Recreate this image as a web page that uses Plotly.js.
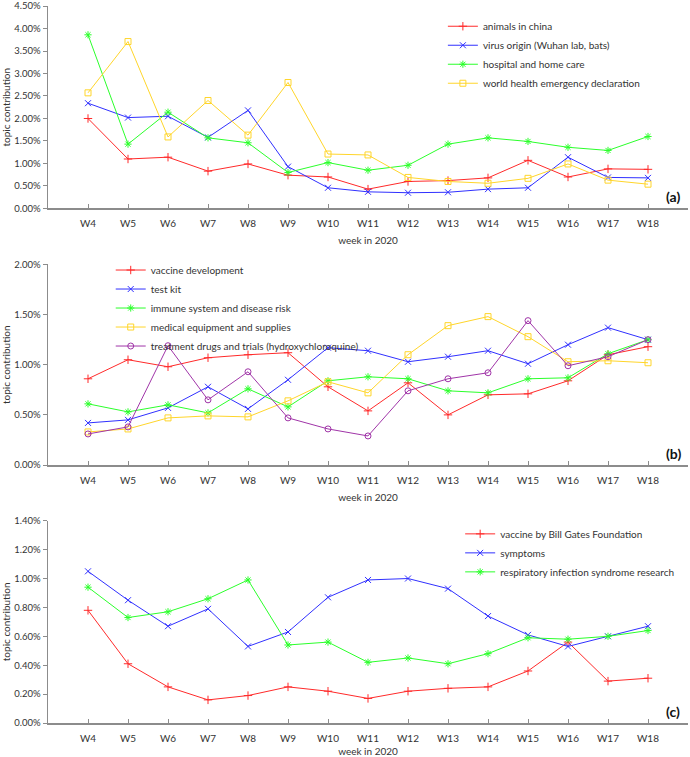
<!DOCTYPE html>
<html>
<head>
<meta charset="utf-8">
<script src="https://cdn.plot.ly/plotly-3.0.1.min.js"></script>
<style>html,body{margin:0;padding:0;background:#fff;}#chart{width:690px;height:757px;}</style>
</head>
<body>
<div id="chart"></div>
<script>
// ---- data ----
const weeks = ['W4','W5','W6','W7','W8','W9','W10','W11','W12','W13','W14','W15','W16','W17','W18'];

// panel (a)
const animalsInChina   = [2.00,1.10,1.14,0.83,0.99,0.74,0.70,0.43,0.60,0.62,0.68,1.07,0.70,0.88,0.87];
const virusOrigin      = [2.34,2.02,2.05,1.58,2.18,0.93,0.46,0.37,0.35,0.36,0.43,0.46,1.14,0.69,0.68];
const hospitalHomeCare = [3.86,1.43,2.14,1.57,1.46,0.80,1.02,0.85,0.96,1.43,1.57,1.49,1.36,1.29,1.60];
const worldHealthEmerg = [2.57,3.71,1.59,2.40,1.63,2.80,1.21,1.19,0.69,0.60,0.56,0.67,0.99,0.63,0.54];

// panel (b)
const vaccineDev       = [0.86,1.05,0.98,1.07,1.10,1.12,0.78,0.54,0.82,0.50,0.70,0.71,0.84,1.10,1.18];
const testKit          = [0.42,0.45,0.57,0.78,0.56,0.85,1.17,1.14,1.03,1.08,1.14,1.01,1.20,1.37,1.25];
const immuneSystem     = [0.61,0.53,0.60,0.52,0.76,0.58,0.84,0.88,0.86,0.74,0.72,0.86,0.87,1.11,1.25];
const medicalEquip     = [0.33,0.36,0.47,0.49,0.48,0.64,0.83,0.72,1.10,1.39,1.48,1.28,1.03,1.04,1.02];
const treatmentDrugs   = [0.31,0.38,1.19,0.65,0.93,0.47,0.36,0.29,0.74,0.86,0.92,1.44,0.99,1.08,1.25];

// panel (c)
const vaccineGates     = [0.78,0.41,0.25,0.16,0.19,0.25,0.22,0.17,0.22,0.24,0.25,0.36,0.56,0.29,0.31];
const symptoms         = [1.05,0.85,0.67,0.79,0.53,0.63,0.87,0.99,1.00,0.93,0.74,0.61,0.53,0.60,0.67];
const respiratory      = [0.94,0.73,0.77,0.86,0.99,0.54,0.56,0.42,0.45,0.41,0.48,0.59,0.58,0.60,0.64];

// ---- styles ----
const RED = '#ff2a2a', BLUE = '#3030ff', GREEN = '#2bff2b', YELLOW = '#ffd52a', PURPLE = '#a035a8';
const pct = a => a.map(v => v / 100);

function tr(name, vals, color, symbol, xa, ya, leg) {
  return {
    type: 'scatter', mode: 'lines+markers', name: name,
    x: weeks, y: pct(vals), xaxis: xa, yaxis: ya, legend: leg,
    line: {color: color, width: 1},
    marker: {symbol: symbol, size: 6, color: color, line: {color: color, width: 1}}
  };
}

const data = [
  tr('animals in china', animalsInChina, RED, 'cross-thin-open', 'x', 'y', 'legend'),
  tr('virus origin (Wuhan lab, bats)', virusOrigin, BLUE, 'x-thin-open', 'x', 'y', 'legend'),
  tr('hospital and home care', hospitalHomeCare, GREEN, 'asterisk-open', 'x', 'y', 'legend'),
  tr('world health emergency declaration', worldHealthEmerg, YELLOW, 'square-open', 'x', 'y', 'legend'),

  tr('vaccine development', vaccineDev, RED, 'cross-thin-open', 'x2', 'y2', 'legend2'),
  tr('test kit', testKit, BLUE, 'x-thin-open', 'x2', 'y2', 'legend2'),
  tr('immune system and disease risk', immuneSystem, GREEN, 'asterisk-open', 'x2', 'y2', 'legend2'),
  tr('medical equipment and supplies', medicalEquip, YELLOW, 'square-open', 'x2', 'y2', 'legend2'),
  tr('treatment drugs and trials (hydroxychloroquine)', treatmentDrugs, PURPLE, 'circle-open', 'x2', 'y2', 'legend2'),

  tr('vaccine by Bill Gates Foundation', vaccineGates, RED, 'cross-thin-open', 'x3', 'y3', 'legend3'),
  tr('symptoms', symptoms, BLUE, 'x-thin-open', 'x3', 'y3', 'legend3'),
  tr('respiratory infection syndrome research', respiratory, GREEN, 'asterisk-open', 'x3', 'y3', 'legend3')
];

const FONT = 'Lato, "Liberation Sans", sans-serif';
const AXC = '#8c8c8c';

function xax(anchor) {
  return {
    anchor: anchor, domain: [0, 1], type: 'category', range: [-1, 15],
    showgrid: false, zeroline: false, showline: true, linecolor: AXC, linewidth: 1.5,
    ticks: 'inside', ticklen: 4, tickcolor: AXC, tickwidth: 1, ticklabelstandoff: 5,
    tickfont: {family: FONT, size: 10, color: '#333'},
    title: {text: 'week in 2020', font: {family: FONT, size: 10, color: '#333'}, standoff: 9}
  };
}
function yax(anchor, domain, max, dtick) {
  return {
    anchor: anchor, domain: domain, range: [0, max],
    tickformat: '.2%', dtick: dtick, tick0: 0,
    showgrid: false, zeroline: false, showline: true, linecolor: AXC, linewidth: 1.5,
    ticks: 'outside', ticklen: 4, tickcolor: AXC, tickwidth: 1,
    tickfont: {family: FONT, size: 9.5, color: '#333'},
    title: {text: 'topic contribution', font: {family: FONT, size: 10, color: '#333'}, standoff: 4}
  };
}
function leg(x, y) {
  return {x: x, y: y, xanchor: 'left', yanchor: 'top', bgcolor: 'rgba(0,0,0,0)',
          font: {family: FONT, size: 10, color: '#333'}, itemwidth: 30};
}
function tag(txt, yAxisBottom) {
  return {text: '<b>' + txt + '</b>', xref: 'paper', yref: 'paper', x: 0.977, y: yAxisBottom + 12/717,
          xanchor: 'center', yanchor: 'middle', showarrow: false,
          font: {family: FONT, size: 14, color: '#111'}};
}

const layout = {
  width: 690, height: 757,
  margin: {l: 48, r: 2, t: 6, b: 34},
  paper_bgcolor: '#fff', plot_bgcolor: '#fff',
  font: {family: FONT, color: '#333'},
  xaxis: xax('y'), xaxis2: xax('y2'), xaxis3: xax('y3'),
  yaxis: yax('x', [0.7176, 1.0], 0.045, 0.005),
  yaxis2: yax('x2', [0.3598, 0.6395], 0.02, 0.005),
  yaxis3: yax('x3', [0, 0.2821], 0.014, 0.002),
  legend: leg(0.617, 0.992),
  legend2: leg(0.098, 0.652),
  legend3: leg(0.644, 0.284),
  annotations: [tag('(a)', 0.7176), tag('(b)', 0.3598), tag('(c)', 0)]
};

Plotly.newPlot('chart', data, layout, {displayModeBar: false, staticPlot: true});
</script>
</body>
</html>
